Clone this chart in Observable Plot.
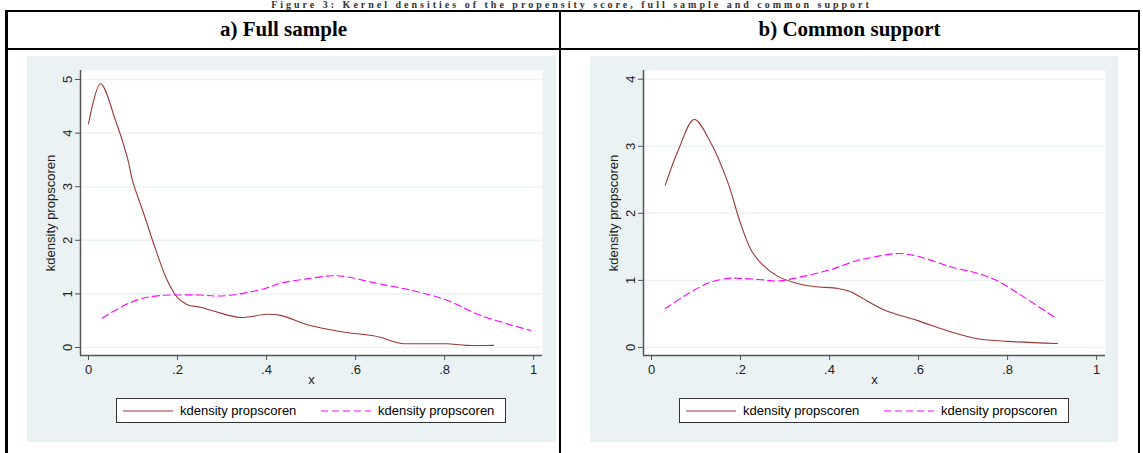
<!DOCTYPE html>
<html>
<head>
<meta charset="utf-8">
<script src="https://cdn.jsdelivr.net/npm/d3@7"></script>
<script src="https://cdn.jsdelivr.net/npm/@observablehq/plot@0.6"></script>
<style>
  html, body { margin: 0; padding: 0; background: #fff; }
  #root { position: relative; width: 1143px; height: 453px; overflow: hidden; background: #fff; }
  .title { position: absolute; left: 0; top: 0px; width: 1143px; text-align: center;
           font: bold 10px "Liberation Serif", "Times New Roman", serif; line-height: 10px; letter-spacing: 3px; white-space: nowrap; color: #333; }
  .b { position: absolute; background: #000; }
  .head { position: absolute; top: 17px; height: 34px; line-height: 34px; text-align: center;
          font: bold 21px "Liberation Serif", "Times New Roman", serif; }
  .panel { position: absolute; top: 56px; height: 386px; background: #eaf2f3; }
  .legend { position: absolute; top: 342px; width: 388px; height: 23px; background: #fff;
            border: 1px solid #333; font: 13px "Liberation Sans", Arial, sans-serif; }
  .legend svg { position: absolute; left: 0; top: 0; }
  .legend span { position: absolute; top: 4px; line-height: 15px; white-space: nowrap; }
</style>
</head>
<body>
<div id="root">
  <div class="title">Figure 3: Kernel densities of the propensity score, full sample and common support</div>
  <div class="b" style="left:5px;top:10px;width:1135px;height:2px"></div>
  <div class="b" style="left:5px;top:48px;width:1135px;height:2px"></div>
  <div class="b" style="left:5px;top:10px;width:3px;height:443px"></div>
  <div class="b" style="left:559px;top:10px;width:2px;height:443px"></div>
  <div class="b" style="left:1138px;top:10px;width:2px;height:443px"></div>
  <div class="head" style="left:8px;width:551px">a) Full sample</div>
  <div class="head" style="left:561px;width:577px">b) Common support</div>
  <div class="panel" id="pa" style="left:27px;width:529px"></div>
  <div class="panel" id="pb" style="left:590px;width:528px"></div>
</div>
<script>
// Panel a) Full sample
const aSolidX = [0.0, 0.027, 0.061, 0.087, 0.10, 0.124, 0.15, 0.177, 0.2, 0.222, 0.252, 0.281, 0.342, 0.40, 0.431, 0.49, 0.544, 0.58, 0.64, 0.656, 0.70, 0.73, 0.78, 0.806, 0.85, 0.91];
const aSolidY = [4.17, 4.92, 4.23, 3.55, 3.08, 2.50, 1.85, 1.25, 0.93, 0.80, 0.75, 0.68, 0.56, 0.62, 0.60, 0.43, 0.33, 0.28, 0.22, 0.19, 0.08, 0.07, 0.07, 0.07, 0.04, 0.04];
const aDashX = [0.031, 0.072, 0.117, 0.162, 0.2, 0.25, 0.29, 0.34, 0.40, 0.431, 0.49, 0.548, 0.58, 0.64, 0.73, 0.806, 0.88, 0.993];
const aDashY = [0.55, 0.75, 0.91, 0.97, 0.98, 0.98, 0.96, 1.00, 1.11, 1.20, 1.28, 1.34, 1.32, 1.21, 1.06, 0.88, 0.60, 0.32];
// Panel b) Common support
const bSolidX = [0.031, 0.06, 0.096, 0.134, 0.172, 0.2, 0.224, 0.247, 0.284, 0.32, 0.365, 0.419, 0.448, 0.47, 0.523, 0.598, 0.673, 0.733, 0.80, 0.912];
const bSolidY = [2.42, 2.94, 3.40, 3.04, 2.45, 1.85, 1.45, 1.25, 1.06, 0.97, 0.91, 0.88, 0.83, 0.75, 0.56, 0.40, 0.23, 0.13, 0.09, 0.06];
const bDashX = [0.031, 0.082, 0.128, 0.172, 0.2, 0.247, 0.284, 0.32, 0.397, 0.464, 0.486, 0.553, 0.598, 0.673, 0.73, 0.778, 0.837, 0.91];
const bDashY = [0.58, 0.80, 0.96, 1.03, 1.03, 1.01, 0.99, 1.03, 1.15, 1.30, 1.33, 1.40, 1.36, 1.20, 1.11, 0.99, 0.75, 0.43];

const xTicks = [0, 0.2, 0.4, 0.6, 0.8, 1];
const aYTicks = [0, 1, 2, 3, 4, 5];
const bYTicks = [0, 1, 2, 3, 4];
const seriesLabel = "kdensity propscoren";
const yLabel = "kdensity propscoren";
const xLabel = "x";

const solidColor = "#9a3636";
const dashColor = "#ff00ff";
const gridColor = "#eaf2f3";
const axisColor = "#555";

function fmtX(d) { return d === 0 ? "0" : d === 1 ? "1" : String(d).replace(/^0\./, "."); }
function fmtY(d) { return String(d); }

function panel(el, width, sx, sy, dx, dy, yDomain, yTicks) {
  const solid = sx.map((x, i) => ({x, y: sy[i]}));
  const dash = dx.map((x, i) => ({x, y: dy[i]}));
  const xDomain = [-0.018, 1.02];
  const chart = Plot.plot({
    width, height: 336,
    marginLeft: 53, marginRight: width - 53 - 462, marginTop: 14, marginBottom: 37,
    style: {background: "transparent", fontFamily: "'Liberation Sans', Arial, sans-serif", fontSize: "13px", color: "#222"},
    x: {domain: xDomain, label: null},
    y: {domain: yDomain, label: null},
    marks: [
      Plot.frame({fill: "white", stroke: null}),
      Plot.ruleY(yTicks, {stroke: gridColor, strokeWidth: 1.5}),
      Plot.ruleX([xDomain[0]], {stroke: axisColor, strokeWidth: 1.5}),
      Plot.ruleY([yDomain[0]], {stroke: axisColor, strokeWidth: 1.5}),
      Plot.axisY(yTicks, {tickSize: 5, tickPadding: 4, tickRotate: -90, tickFormat: fmtY, stroke: axisColor, label: null, fontSize: 13}),
      Plot.axisX(xTicks, {tickSize: 5, tickPadding: 4, tickFormat: fmtX, stroke: axisColor, label: null, fontSize: 13}),
      Plot.text([yLabel], {text: d => d, frameAnchor: "left", textAnchor: "middle", dx: -30, rotate: -90, fontSize: 13, fill: "#222"}),
      Plot.text([xLabel], {text: d => d, frameAnchor: "bottom", dy: 28, fontSize: 13, fill: "#222"}),
      Plot.line(solid, {x: "x", y: "y", stroke: solidColor, strokeWidth: 1.1, curve: "catmull-rom"}),
      Plot.line(dash, {x: "x", y: "y", stroke: dashColor, strokeWidth: 1.1, strokeDasharray: "7,4", curve: "catmull-rom"})
    ]
  });
  chart.style.position = "absolute";
  chart.style.left = "0px";
  chart.style.top = "0px";
  el.appendChild(chart);

  const lg = document.createElement("div");
  lg.className = "legend";
  lg.style.left = (53 + 231 - 195) + "px";
  lg.innerHTML =
    `<svg width="388" height="23"><line x1="6" x2="56" y1="12" y2="12" stroke="${solidColor}" stroke-width="1.1"/>` +
    `<line x1="204" x2="254" y1="12" y2="12" stroke="${dashColor}" stroke-width="1.1" stroke-dasharray="7,4"/></svg>` +
    `<span style="left:63px">${seriesLabel}</span><span style="left:261px">${seriesLabel}</span>`;
  el.appendChild(lg);
}

panel(document.getElementById("pa"), 529, aSolidX, aSolidY, aDashX, aDashY, [-0.149, 5.168], aYTicks);
panel(document.getElementById("pb"), 528, bSolidX, bSolidY, bDashX, bDashY, [-0.12, 4.13], bYTicks);
</script>
</body>
</html>
